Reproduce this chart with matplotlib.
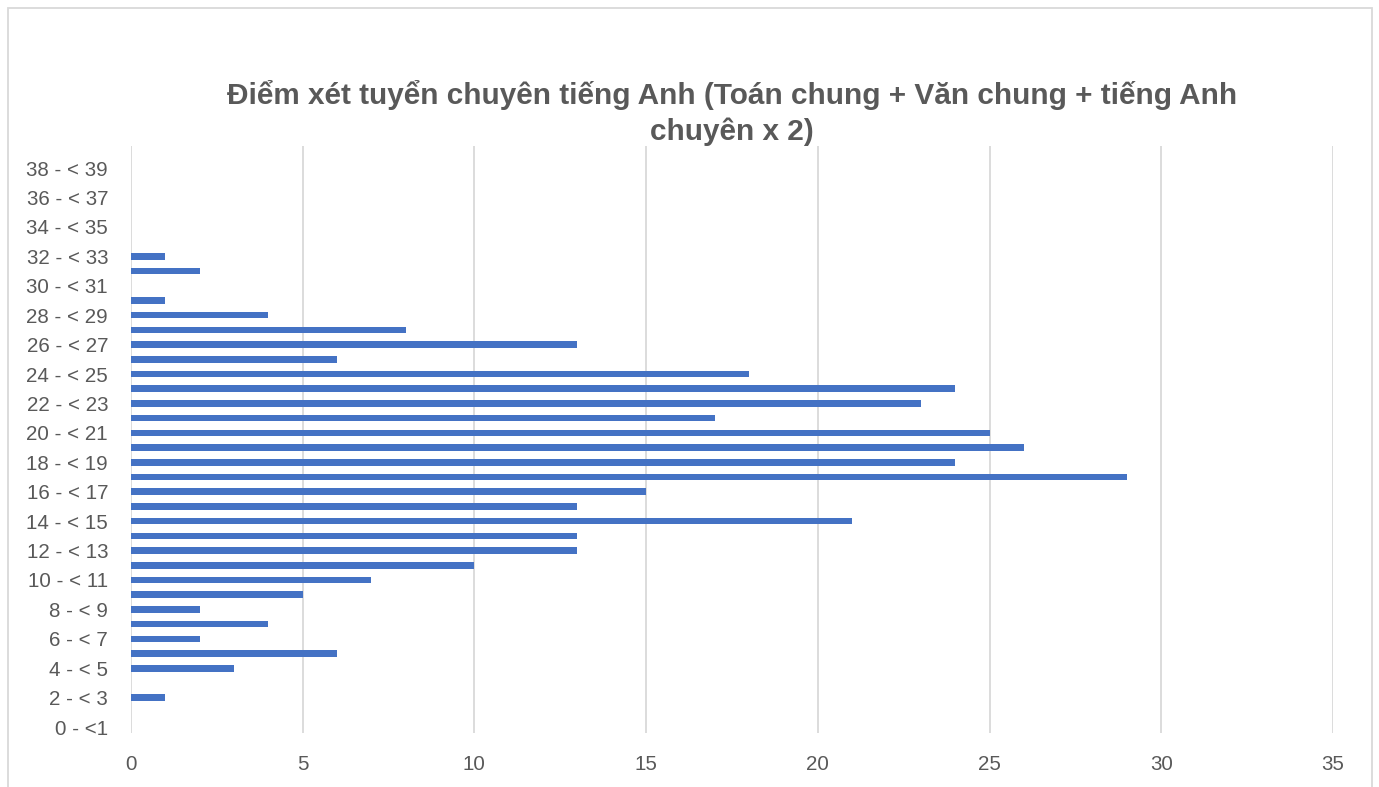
import matplotlib
matplotlib.use("Agg")
from matplotlib import pyplot as plt
from matplotlib.patches import Rectangle

# so thi sinh theo khoang diem (0 - <1 ... 38 - < 39)
categories = ["0 - <1"] + ["%d - < %d" % (i, i + 1) for i in range(1, 39)]
counts = [0, 0, 1, 0, 3, 6, 2, 4, 2, 5,
          7, 10, 13, 13, 21, 13, 15, 29, 24, 26,
          25, 17, 23, 24, 18, 6, 13, 8, 4, 1,
          0, 2, 1, 0, 0, 0, 0, 0, 0]
x_ticks = [0, 5, 10, 15, 20, 25, 30, 35]

title = "Điểm xét tuyển chuyên tiếng Anh (Toán chung + Văn chung + tiếng Anh\nchuyên x 2)"

plt.rcParams['font.family'] = ['Liberation Sans', 'DejaVu Sans']
gray = '#595959'

fig = plt.figure(figsize=(13.79, 7.87), dpi=100)
ax = fig.add_axes([131 / 1379, 1 - 733 / 787, (1333 - 131) / 1379, (733 - 146) / 787])

pos = list(range(len(categories)))
ax.barh(pos, counts, height=0.45, color='#4472C4', zorder=3)

ax.set_xlim(0, 35)
ax.set_ylim(-0.4, 39.5)
ax.set_xticks(x_ticks)
ax.set_yticks(pos[::2])
ax.set_yticklabels(categories[::2])
ax.grid(axis='x', color='#d9d9d9', linewidth=1.3, zorder=0)
ax.tick_params(length=0, colors=gray, labelsize=14.8)
ax.tick_params(axis='y', pad=16.5)
ax.tick_params(axis='x', pad=16)
for s in ax.spines.values():
    s.set_visible(False)

fig.text(732 / 1379, 1 - 113 / 787, title, ha='center', va='center',
         fontsize=21.4, fontweight='bold', color=gray, linespacing=1.3)

# khung ngoai cua bieu do
fig.patches.append(Rectangle((8 / 1379, -0.05), (1372 - 8) / 1379, 1.05 - 8 / 787,
                             transform=fig.transFigure, fill=False,
                             edgecolor='#d9d9d9', linewidth=1.3))

fig.savefig('out.png', dpi=100)
